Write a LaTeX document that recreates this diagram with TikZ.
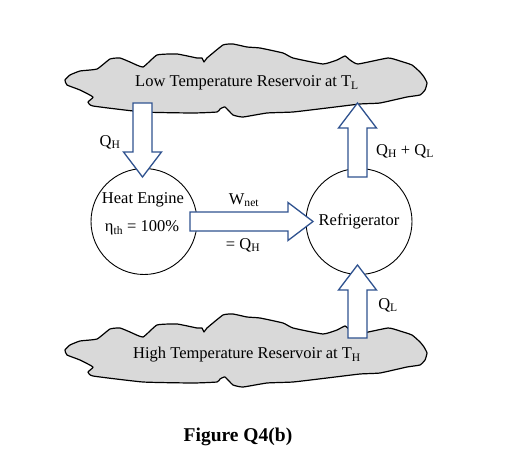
\documentclass[tikz,border=0pt]{standalone}
\usepackage{fontspec}
\setmainfont{Liberation Serif}
\usetikzlibrary{calc}

\definecolor{arrowblue}{HTML}{2F528F}
\definecolor{cloudgray}{HTML}{D9D9D9}

\newcommand{\blockarrow}[2]{%
    \draw[block arrow] let \p1=($(#2)-(#1)$), \n1={veclen(\x1,\y1)}, \n2={atan2(\y1,\x1)} in
        [shift={(#1)}, rotate=\n2]
        (0,-9.5) -- (\n1-25,-9.5) -- (\n1-25,-19) -- (\n1,0) -- (\n1-25,19) -- (\n1-25,9.5) -- (0,9.5) -- cycle;
}

\begin{document}
\begin{tikzpicture}[x=1pt, y=-1pt]
            \tikzset{
                every node/.style={inner sep=0pt, font=\fontsize{16.5}{20}\selectfont},
                device/.style={
                    draw,
                    line width=0.9pt,
                    circle,
                    fill=white,
                    minimum size=106pt
                },
                block arrow/.style={draw=arrowblue, fill=white, line width=1.3pt, line join=miter},
                reservoir/.pic={
                    \draw[fill=cloudgray, line width=1.2pt, line join=round]
                        plot[smooth cycle, tension=0.25] coordinates {
                            (65,80) (70,75) (80,71) (97,69) (110,59) (120,58) (130,62) (143,67)
                            (157,55) (177,54) (197,58) (202,58) (204,62) (207,58) (223,45) (233,44)
                            (247,47) (260,48) (283,53) (293,58) (323,64) (337,60) (345,56) (350,60)
                            (358,64) (388,58) (400,61) (412,65) (420,72) (424,77) (427,83) (425,90)
                            (420,95) (407,97) (380,103) (360,104) (327,108) (293,112) (267,113) (243,117)
                            (233,115) (225,107) (220,109) (217,112) (193,113) (143,112) (93,106) (88,102)
                            (93,97) (80,90) (67,85)
                        };
                }
            }

            \useasboundingbox (0,0) rectangle (525,468);

            \pic (cold) at (0,0) {reservoir};
            \pic (hot) at (0,270) {reservoir};

            \node (low) at (247,83) {Low Temperature Reservoir at T\textsubscript{L}};
            \node (high) at (247,355) {High Temperature Reservoir at T\textsubscript{H}};

            \node[device] (engine) at (144,221.5) {};
            \node[device] (fridge) at (359,221.5) {Refrigerator};

            \node (engine name) at (143,200) {Heat Engine};
            \node (engine eff) at (142,228) {η\textsubscript{th} = 100\%};

            \coordinate (qh start) at (142.5,103);
            \coordinate (qh end) at (142.5,177);
            \coordinate (out start) at (357.5,177);
            \coordinate (out end) at (357.5,103);
            \coordinate (ql start) at (357.5,338);
            \coordinate (ql end) at (357.5,265);
            \coordinate (w start) at (190,221.5);
            \coordinate (w end) at (313,221.5);

            \blockarrow{qh start}{qh end}
            \blockarrow{out start}{out end}
            \blockarrow{ql start}{ql end}
            \blockarrow{w start}{w end}

            \node (qh label) at (110,142) {Q\textsubscript{H}};
            \node (out label) at (405,151) {Q\textsubscript{H} + Q\textsubscript{L}};
            \node (ql label) at (388,305) {Q\textsubscript{L}};
            \node (w label) at (244,200) {W\textsubscript{net}};
            \node (eq label) at (243,245) {= Q\textsubscript{H}};

            \node[font=\fontsize{19.5}{23}\selectfont\bfseries] (caption) at (238,437) {Figure Q4(b)};

        \end{tikzpicture}
\end{document}
